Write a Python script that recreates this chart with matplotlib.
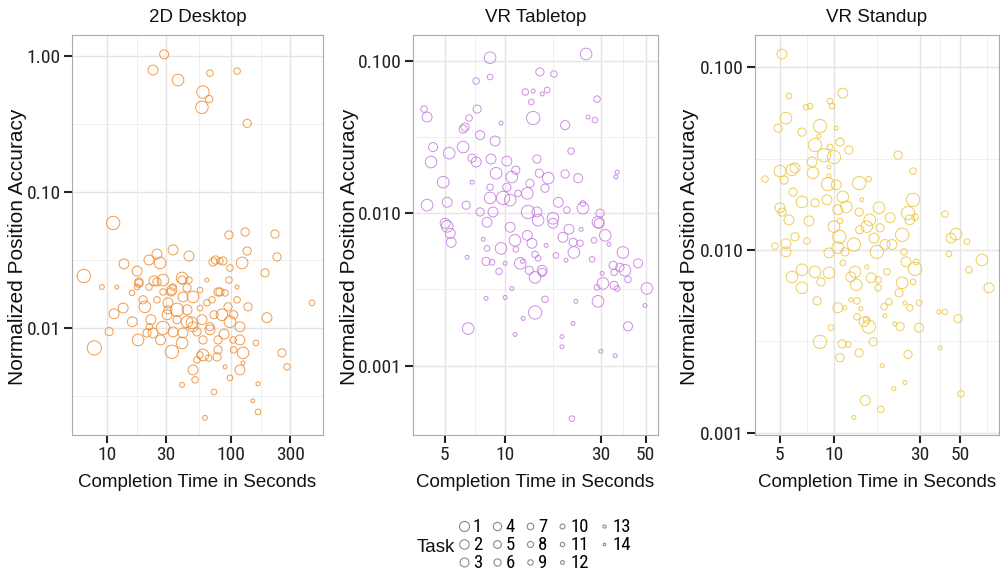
import numpy as np
import matplotlib
matplotlib.use('Agg')
import matplotlib.pyplot as plt
from matplotlib.lines import Line2D

plt.rcParams['font.family'] = ['Liberation Sans', 'DejaVu Sans']
NARROW = ['Roboto Condensed', 'PT Sans Narrow', 'Archivo Narrow', 'Fira Sans Condensed',
          'IBM Plex Sans Condensed', 'Liberation Sans', 'DejaVu Sans']

# ---- 2D Desktop: completion time (s), normalized accuracy, task ----
desk_time = [28.9, 23.5, 37.4, 67.6, 112, 59.4, 66.5, 58.3, 135,
             11.2, 6.5, 7.9, 9.1, 12.0, 13.7, 11.4, 10.4, 13.5, 17.5,
             18.1, 17.5, 21.8, 25.3, 26.8, 23.9, 20.2, 22.6, 17.8, 21.0,
             28.3, 28.3, 31.0, 34.1, 45.8, 40.3, 32.8, 36.7, 41.0, 49.4,
             48.4, 41.0, 33.4, 40.3, 49.4, 56.2, 64.0, 71.6, 86.1, 98.1,
             96.3, 130, 135, 123, 96.3, 81.5, 94.6, 84.6, 98.1, 118,
             137, 118, 125, 118, 98.1, 89.5, 78.6, 67.7, 58.4, 67.7,
             78.6, 59.4, 49.4, 51.3, 40.3, 72.9, 61.7, 165, 150, 165,
             159, 188, 195, 226, 235, 258, 283, 450, 112, 78.6,
             89.5, 30.5, 25.3, 19.5, 15.9, 44.2, 56.2, 34.1, 44.2, 28.3,
             25.3, 59.4, 104, 112, 70.3, 23.5, 34.1, 56.2, 77.1, 53.2, 125,
             18.1, 21.8, 33.4, 40.3, 45.8, 31.0, 36.7, 44.2, 53.2, 27.0,
             22.0, 16.0, 64.0, 73.0, 88.0, 105, 105, 66.0, 75.0, 81.5]
desk_acc = [1.03, 0.79, 0.667, 0.75, 0.776, 0.544, 0.483, 0.42, 0.32,
            0.0592, 0.0241, 0.00713, 0.0200, 0.0200, 0.0296, 0.0127, 0.0094, 0.0140, 0.0262,
            0.0218, 0.0200, 0.0316, 0.0350, 0.0301, 0.0222, 0.0143, 0.0115, 0.00816, 0.00919,
            0.0100, 0.0184, 0.0153, 0.0375, 0.0338, 0.0233, 0.0184, 0.0136, 0.0169, 0.0169,
            0.0109, 0.00919, 0.00667, 0.00776, 0.0102, 0.0140, 0.0225, 0.0306, 0.0311, 0.0276,
            0.0483, 0.0508, 0.0368, 0.0301, 0.0225, 0.0184, 0.0143, 0.0125, 0.0111, 0.0102,
            0.0143, 0.00816, 0.00655, 0.00491, 0.00429, 0.00517, 0.00690, 0.00967, 0.0115, 0.0102,
            0.00816, 0.00633, 0.00491, 0.00415, 0.00381, 0.00338, 0.00218, 0.00388, 0.00291, 0.00241,
            0.00776, 0.0254, 0.0119, 0.0491, 0.0333, 0.00655, 0.00517, 0.0153, 0.0200, 0.0184,
            0.0181, 0.0125, 0.0161, 0.0161, 0.0181, 0.0197, 0.0190, 0.0200, 0.0136, 0.0225,
            0.0218, 0.00816, 0.00816, 0.0161, 0.0161, 0.00919, 0.00935, 0.00633, 0.00612, 0.00582, 0.00553,
            0.0213, 0.0200, 0.0190, 0.0225, 0.0225, 0.0136, 0.0115, 0.0111, 0.00935, 0.00816,
            0.0102, 0.0111, 0.0153, 0.0125, 0.0090, 0.0125, 0.0069, 0.0060, 0.0316, 0.0311]
desk_task = [8, 7, 5, 11, 11, 4, 10, 4, 9,
             3, 3, 2, 13, 14, 7, 7, 9, 7, 7,
             9, 12, 7, 7, 5, 7, 5, 7, 5, 9,
             3, 11, 7, 7, 7, 5, 9, 3, 7, 5,
             5, 7, 3, 5, 7, 12, 14, 9, 9, 11,
             9, 9, 9, 5, 11, 9, 9, 5, 5, 7,
             9, 7, 5, 7, 12, 14, 9, 7, 7, 9,
             9, 5, 7, 11, 13, 12, 13, 14, 14, 12,
             12, 9, 7, 9, 9, 9, 11, 12, 14, 9,
             11, 7, 11, 9, 12, 9, 12, 11, 7, 5,
             9, 9, 11, 11, 11, 7, 7, 11, 9, 11, 14,
             9, 11, 7, 9, 11, 9, 9, 5, 9, 7,
             11, 7, 11, 9, 7, 9, 11, 11, 9, 11]

# ---- VR Tabletop ----
table_time = [8.42, 25.3, 8.42, 7.18, 14.9, 17.5, 12.6, 13.8, 15.3, 16.2,
              13.5, 28.7, 25.9, 28.0, 13.8, 19.9, 9.55, 3.95, 4.09, 7.26,
              6.62, 6.32, 6.18, 7.51, 8.92, 4.38, 5.27, 6.18, 4.28, 6.85,
              7.18, 8.51, 10.2, 14.4, 21.3, 4.92, 6.85, 9.02, 10.8, 11.3,
              14.8, 16.4, 19.9, 23.1, 36.1, 35.6, 4.09, 5.15, 6.40, 8.42,
              9.77, 10.6, 12.9, 13.3, 15.8, 18.4, 24.4, 24.4, 29.7, 7.51,
              8.71, 13.0, 14.4, 17.3, 20.3, 5.03, 8.13, 29.0, 8.42, 10.2,
              11.6, 5.15, 5.33, 5.39, 7.78, 8.13, 6.47, 8.04, 8.61, 9.33,
              9.55, 10.0, 11.2, 11.3, 10.6, 11.9, 12.2, 12.9, 13.6, 13.2,
              14.1, 15.3, 14.1, 14.6, 16.0, 14.6, 17.3, 19.4, 20.8, 17.9,
              20.1, 21.8, 22.0, 23.6, 23.9, 27.1, 27.7, 31.5, 29.4, 32.9,
              38.6, 34.5, 37.3, 39.5, 34.9, 45.9, 40.9, 30.4, 30.7, 28.7,
              34.9, 36.1, 50.8, 49.7, 29.0, 10.8, 8.04, 10.0, 15.8, 22.5,
              14.1, 12.3, 6.55, 21.8, 40.9, 11.2, 19.2, 19.2, 30.0, 35.3, 21.5, 15.3]
table_acc = [0.105, 0.111, 0.0785, 0.0738, 0.0847, 0.0821, 0.0625, 0.0635, 0.0607, 0.0644,
             0.0537, 0.0562, 0.0428, 0.0409, 0.0422, 0.0379, 0.0391, 0.0483, 0.0428, 0.0483,
             0.0422, 0.0368, 0.0357, 0.0326, 0.0298, 0.0272, 0.0248, 0.0272, 0.0217, 0.0230,
             0.0217, 0.0227, 0.0220, 0.0227, 0.0256, 0.0160, 0.0160, 0.0183, 0.0173, 0.0192,
             0.0183, 0.0170, 0.0181, 0.0170, 0.0186, 0.0173, 0.0113, 0.0118, 0.0113, 0.0126,
             0.0126, 0.0122, 0.0135, 0.0157, 0.0146, 0.0118, 0.0108, 0.0116, 0.0100, 0.0102,
             0.0102, 0.0102, 0.0102, 0.00927, 0.0105, 0.00859, 0.00873, 0.00873, 0.0148, 0.0148,
             0.0135, 0.00821, 0.00738, 0.00644, 0.00675, 0.00588, 0.00514, 0.00483, 0.00476, 0.00415,
             0.00588, 0.00469, 0.00664, 0.00579, 0.00809, 0.00469, 0.00483, 0.00716, 0.00635, 0.00422,
             0.00379, 0.00409, 0.00537, 0.00506, 0.00615, 0.0090, 0.00859, 0.00695, 0.00785, 0.00529,
             0.00491, 0.00644, 0.00553, 0.00635, 0.00785, 0.00498, 0.00664, 0.00716, 0.00859, 0.00625,
             0.00553, 0.00455, 0.00442, 0.00422, 0.00409, 0.00469, 0.00368, 0.00403, 0.00346, 0.00326,
             0.00336, 0.00321, 0.00321, 0.00248, 0.00264, 0.00321, 0.00276, 0.00280, 0.00272, 0.00264,
             0.00223, 0.00204, 0.00175, 0.00189, 0.00181, 0.00160, 0.00155, 0.00133, 0.00124, 0.00116, 0.000448, 0.00422]
table_task = [5, 5, 12, 11, 9, 11, 11, 14, 14, 12,
              12, 11, 14, 12, 3, 8, 14, 11, 7, 9,
              11, 9, 9, 8, 7, 8, 5, 5, 5, 9,
              7, 7, 7, 9, 11, 5, 14, 5, 5, 9,
              9, 5, 9, 8, 14, 14, 5, 7, 9, 5,
              3, 5, 5, 9, 9, 7, 5, 12, 9, 9,
              7, 3, 7, 5, 11, 7, 7, 5, 11, 9,
              11, 5, 7, 7, 14, 12, 14, 9, 12, 11,
              5, 14, 5, 12, 7, 5, 14, 7, 7, 9,
              5, 9, 11, 12, 14, 5, 7, 7, 7, 12,
              14, 9, 5, 11, 14, 12, 12, 5, 7, 14,
              5, 9, 9, 5, 11, 8, 11, 14, 5, 12,
              9, 12, 5, 14, 5, 14, 14, 14, 11, 14,
              3, 14, 5, 14, 8, 14, 14, 14, 14, 14, 12, 7]

# ---- VR Standup ----
stand_time = [5.14, 5.62, 11.2, 9.50, 9.75, 6.99, 7.36, 5.41, 4.89, 6.64,
              8.36, 10.3, 8.25, 7.84, 10.8, 12.1, 8.80, 10.0, 9.50, 7.55,
              22.7, 27.5, 5.01, 5.84, 6.07, 7.64, 4.14, 5.28, 5.92, 9.38,
              9.26, 10.3, 13.8, 15.6, 6.64, 7.84, 9.14, 11.2, 11.7, 5.01,
              5.14, 5.62, 7.26, 10.5, 10.8, 13.8, 14.3, 17.8, 20.5, 27.5,
              25.8, 28.2, 41.4, 9.38, 15.8,
              4.70, 5.41, 5.41, 6.07, 7.08, 10.0, 10.7, 10.5, 9.38, 11.5,
              12.9, 13.9, 15.2, 18.0, 16.7, 17.3, 19.2, 21.0, 23.9, 26.4,
              24.5, 25.1, 28.2, 28.6, 44.7, 47.6, 54.8, 43.5, 66.4, 56.2,
              72.6, 5.84, 6.64, 6.64, 7.84, 8.47, 9.38, 11.2, 12.4, 13.1,
              13.3, 15.2, 16.1, 17.6, 17.6, 19.7, 23.9, 27.5, 8.05, 10.5,
              11.5, 13.4, 14.1, 19.0, 20.2, 23.0, 24.8, 26.4, 29.7, 38.3,
              41.4, 48.9, 29.7, 13.4, 14.7, 15.6, 19.2, 21.8, 23.3, 9.62,
              8.36, 11.1, 12.0, 16.5, 13.8, 10.8, 25.8, 38.8, 18.5, 21.5,
              24.8, 50.8, 14.9, 18.2, 12.9, 15.2, 12.4]
stand_acc = [0.118, 0.0695, 0.0721, 0.0652, 0.0612, 0.0604, 0.0612, 0.0526, 0.0464, 0.0441,
             0.0476, 0.0464, 0.0420, 0.0375, 0.0389, 0.0352, 0.0330, 0.0322, 0.0366, 0.0303,
             0.0330, 0.0270, 0.0270, 0.0274, 0.0281, 0.0264, 0.0244, 0.0241, 0.0207, 0.0254,
             0.0229, 0.0227, 0.0232, 0.0244, 0.0183, 0.0181, 0.0188, 0.0195, 0.0172, 0.0170,
             0.0161, 0.0146, 0.0144, 0.0166, 0.0144, 0.0161, 0.0188, 0.0170, 0.0150, 0.0188,
             0.0159, 0.0151, 0.0157, 0.0284, 0.0146,
             0.0105, 0.0108, 0.00975, 0.0118, 0.0112, 0.0134, 0.0118, 0.0103, 0.00963, 0.00975,
             0.0107, 0.0129, 0.0134, 0.0132, 0.0116, 0.00975, 0.0107, 0.0107, 0.0121, 0.0146,
             0.00975, 0.00860, 0.00787, 0.00860, 0.0116, 0.0122, 0.0111, 0.00951, 0.00881, 0.00778,
             0.00620, 0.00711, 0.00778, 0.00620, 0.00758, 0.00668, 0.00749, 0.00849, 0.00711, 0.00758,
             0.00644, 0.00807, 0.00703, 0.00686, 0.00620, 0.00758, 0.00660, 0.00668, 0.00526, 0.00482,
             0.00482, 0.00526, 0.00476, 0.00489, 0.00520, 0.00582, 0.00513, 0.00482, 0.00513, 0.00458,
             0.00458, 0.00420, 0.00375, 0.00430, 0.00404, 0.00380, 0.00436, 0.00394, 0.00380, 0.00375,
             0.00314, 0.00306, 0.00303, 0.00314, 0.00273, 0.00257, 0.00267, 0.00291, 0.00232, 0.00174,
             0.00188, 0.00163, 0.00150, 0.00134, 0.00121, 0.00414, 0.00533]
stand_task = [7, 12, 7, 12, 12, 12, 12, 5, 9, 9,
              3, 14, 14, 3, 9, 9, 3, 3, 12, 7,
              9, 11, 5, 5, 7, 5, 11, 9, 9, 14,
              3, 7, 3, 12, 5, 9, 7, 5, 5, 7,
              9, 7, 7, 7, 12, 9, 14, 5, 7, 3,
              3, 11, 11, 14, 5,
              11, 7, 7, 9, 11, 5, 3, 5, 7, 9,
              3, 9, 5, 9, 7, 3, 7, 7, 3, 7,
              11, 7, 3, 12, 7, 5, 12, 12, 5, 11,
              7, 5, 5, 5, 5, 9, 5, 12, 7, 5,
              5, 14, 7, 11, 11, 11, 5, 12, 9, 7,
              14, 11, 14, 11, 11, 9, 14, 11, 12, 14,
              12, 9, 8, 11, 7, 3, 14, 14, 9, 12,
              3, 9, 12, 9, 9, 9, 9, 14, 14, 14,
              14, 11, 7, 11, 14, 11, 14]

tasks = list(range(1, 15))

panels = [
    ('2D Desktop', desk_time, desk_acc, desk_task, '#EE8A2E',
     (5.22, 552), (0.00163, 1.43), [10, 30, 100, 300], ['10', '30', '100', '300'],
     [10, 30, 100, 300, 1000], [0.01, 0.1, 1.0], ['0.01', '0.10', '1.00'], [0.001, 0.01, 0.1, 1, 10],
     0.072, 0.251, 45),
    ('VR Tabletop', table_time, table_acc, table_task, '#C57AE0',
     (3.48, 57.7), (0.00035, 0.148), [5, 10, 30, 50], ['5', '10', '30', '50'],
     [5, 10, 30, 50, 100], [0.001, 0.01, 0.1], ['0.001', '0.010', '0.100'], [0.0001, 0.001, 0.01, 0.1, 1],
     0.413, 0.245, 54),
    ('VR Standup', stand_time, stand_acc, stand_task, '#EBC53C',
     (3.64, 82.6), (0.00097, 0.15), [5, 10, 30, 50], ['5', '10', '30', '50'],
     [5, 10, 30, 50, 100], [0.001, 0.01, 0.1], ['0.001', '0.010', '0.100'], [0.0001, 0.001, 0.01, 0.1, 1],
     0.755, 0.244, 56),
]


def diam_px(task):
    return 15 - (np.asarray(task) - 1) * 0.85


fig = plt.figure(figsize=(10, 5.75), dpi=100)
fig.patch.set_facecolor('white')

for (title, t, a, k, col, xlim, ylim, xt, xtl, xbr, yt, ytl, ybr, left, width, ylab_off) in panels:
    ax = fig.add_axes([left, 1 - 435 / 575, width, 400 / 575])
    ax.set_xscale('log')
    ax.set_yscale('log')
    ax.set_xlim(*xlim)
    ax.set_ylim(*ylim)

    # grid: majors and log-midpoint minors
    xminor = [np.sqrt(xbr[i] * xbr[i + 1]) for i in range(len(xbr) - 1)]
    yminor = [np.sqrt(ybr[i] * ybr[i + 1]) for i in range(len(ybr) - 1)]
    for v in xminor:
        ax.axvline(v, color='#EFEFEF', lw=0.7, zorder=0)
    for v in yminor:
        ax.axhline(v, color='#EFEFEF', lw=0.7, zorder=0)
    for v in xt:
        ax.axvline(v, color='#E4E4E4', lw=1.0, zorder=0)
    for v in yt:
        ax.axhline(v, color='#E4E4E4', lw=1.0, zorder=0)

    s = (diam_px(k) * 0.72) ** 2
    ax.scatter(t, a, s=s, facecolors='none', edgecolors=col, linewidths=0.7,
               alpha=0.85, zorder=2)

    ax.xaxis.set_major_locator(matplotlib.ticker.FixedLocator(xt))
    ax.xaxis.set_major_formatter(matplotlib.ticker.FixedFormatter(xtl))
    ax.xaxis.set_minor_locator(matplotlib.ticker.NullLocator())
    ax.yaxis.set_major_locator(matplotlib.ticker.FixedLocator(yt))
    ax.yaxis.set_major_formatter(matplotlib.ticker.FixedFormatter(ytl))
    ax.yaxis.set_minor_locator(matplotlib.ticker.NullLocator())
    ax.tick_params(which='major', direction='out', length=6, width=1.5,
                   color='#222222', labelcolor='#222222', labelsize=14, pad=2)
    for lab in ax.get_xticklabels() + ax.get_yticklabels():
        lab.set_family(NARROW)

    for sp in ax.spines.values():
        sp.set_color('#AAAAAA')
        sp.set_linewidth(0.8)

    ax.text(0.5, 1 + 17 / 400, title, transform=ax.transAxes, ha='center',
            va='center', fontsize=13.5, color='#111111')
    ax.set_xlabel('Completion Time in Seconds', fontsize=13.5, color='#111111')
    ax.xaxis.set_label_coords(0.5, -39 / 400)
    ax.set_ylabel('Normalized Position Accuracy', fontsize=15, color='#111111')
    ax.yaxis.set_label_coords(-ylab_off / (width * 1000), 0.47)

# legend
handles = []
for task in tasks:
    handles.append(Line2D([], [], ls='none', marker='o', markerfacecolor='none',
                          markeredgecolor='#8A8A8A', markeredgewidth=0.8,
                          markersize=diam_px(task) * 0.67 * 0.72))
labels = [str(task) for task in tasks]
fig.legend(handles, labels, ncol=5, loc='center', bbox_to_anchor=(0.545, 0.052),
           frameon=False, handletextpad=0.15, columnspacing=0.5, labelspacing=0.0,
           handlelength=0.6, borderpad=0, prop={'family': NARROW, 'size': 13.5})
fig.text(0.436, 1 - 547 / 575, 'Task', ha='center', va='center', fontsize=13.5, color='#111111')

fig.savefig('out.png', dpi=100, facecolor='white')
